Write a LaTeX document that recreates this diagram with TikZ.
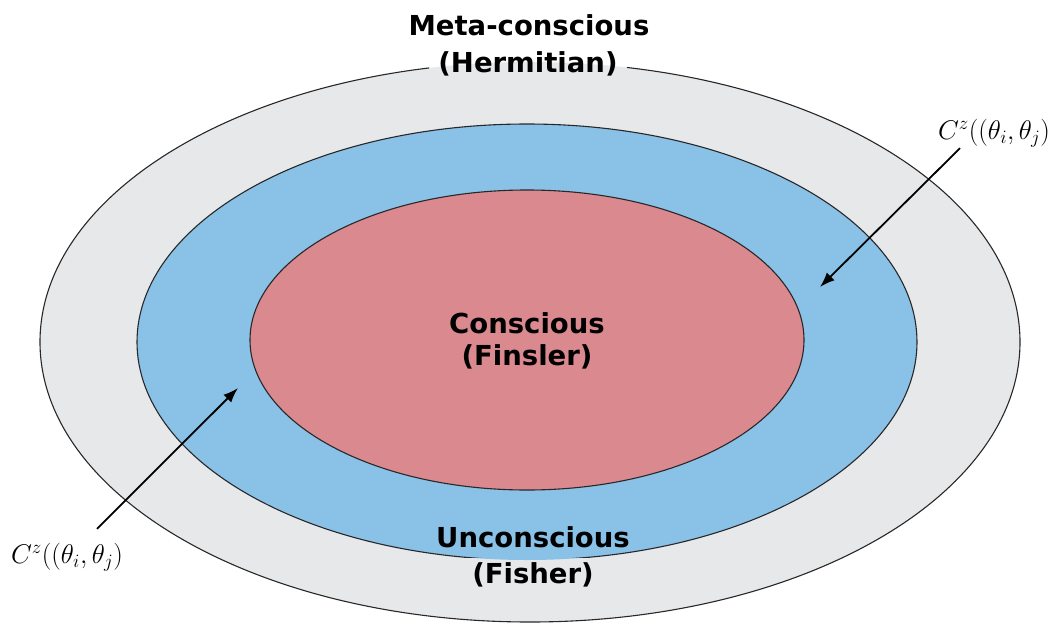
\RequirePackage{fix-cm}
\documentclass[tikz,border=0pt]{standalone}
\usepackage{fontspec}
\setsansfont{DejaVu Sans}
\usetikzlibrary{arrows.meta, positioning}
\definecolor{metagray}{RGB}{230,232,234}
\definecolor{uncblue}{RGB}{138,193,230}
\definecolor{conred}{RGB}{218,137,143}
\definecolor{rimline}{RGB}{40,40,40}

\begin{document}
\begin{tikzpicture}[
  x=1pt, y=-1pt,
  rim/.style={draw=rimline, line width=1.1pt},
  title/.style={font=\fontsize{27.5}{32}\selectfont\sffamily\bfseries, inner sep=0pt, anchor=base},
  gap/.style={inner xsep=9pt, inner ysep=4pt},
  cz/.style={font=\fontsize{27}{30}\selectfont, inner sep=0pt},
  arr/.style={-{Latex[length=15pt, width=11pt]}, line width=1.8pt}
]
\useasboundingbox (0,0) rectangle (1052,627);
% nested regions
\fill[metagray] (530,342) ellipse [x radius=490pt, y radius=280pt];
\fill[uncblue] (527,342) ellipse [x radius=390pt, y radius=218pt];
\fill[conred] (527,340) ellipse [x radius=277pt, y radius=150pt];
% labels
\node[title] (meta) at (529,35) {Meta-conscious};
\node[title, gap] (herm) at (528,72) {(Hermitian)};
\node[title] (consc) at (527,333) {Conscious};
\node[title] (finsler) at (527,365) {(Finsler)};
\node[title] (uncon) at (533,547) {Unconscious};
\node[title, gap] (fisher) at (533,583) {(Fisher)};
% outlines, broken under the labels
\begin{scope}[even odd rule]
  \clip (0,0) rectangle (1052,627)
    (herm.north west) rectangle (herm.south east)
    (fisher.north west) rectangle (fisher.south east);
  \draw[rim] (530,342) ellipse [x radius=490pt, y radius=280pt];
  \draw[rim] (527,342) ellipse [x radius=390pt, y radius=218pt];
  \draw[rim] (527,340) ellipse [x radius=277pt, y radius=150pt];
\end{scope}
% couplings
\node[cz] (czR) at (994,133) {$C^z((\theta_i,\theta_j)$};
\node[cz] (czL) at (67,557) {$C^z((\theta_i,\theta_j)$};
\coordinate (tipR) at (820,287);
\coordinate (tipL) at (238,388);
\draw[arr] ([xshift=-34pt, yshift=-1pt]czR.south) -- (tipR);
\draw[arr] ([xshift=30pt, yshift=14pt]czL.north) -- (tipL);
\end{tikzpicture}
\end{document}
